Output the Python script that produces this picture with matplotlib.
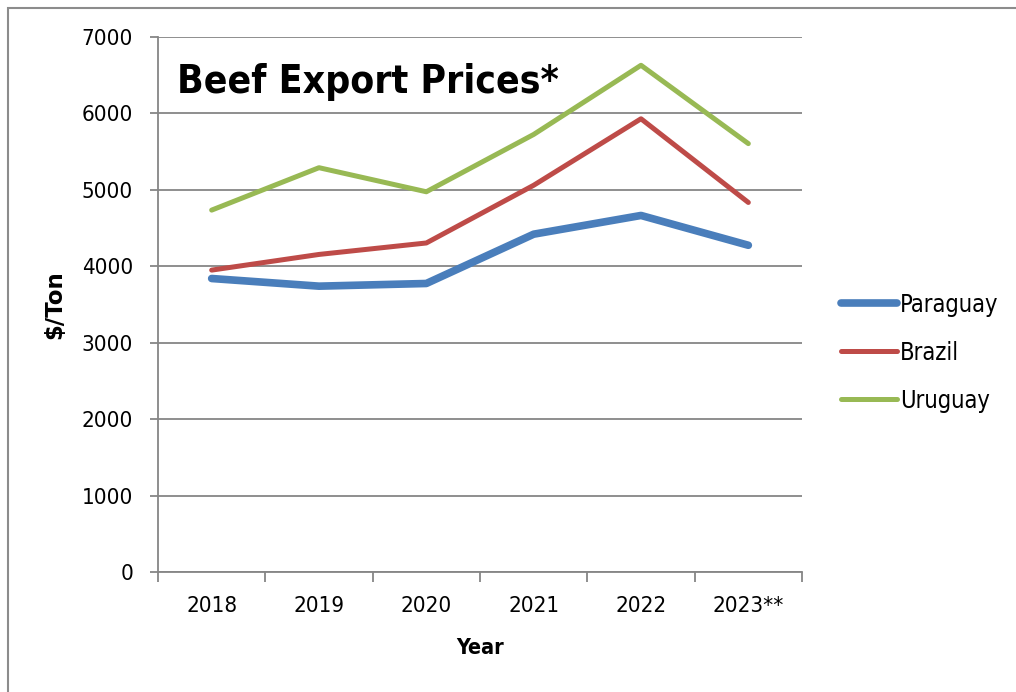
import numpy as np
import matplotlib
matplotlib.use("Agg")
import matplotlib.pyplot as plt
from matplotlib.patches import Rectangle

years = ["2018", "2019", "2020", "2021", "2022", "2023**"]
paraguay = [3840, 3740, 3775, 4420, 4665, 4275]
brazil = [3950, 4155, 4305, 5060, 5930, 4835]
uruguay = [4735, 5290, 4975, 5725, 6630, 5605]

series_names = ["Paraguay", "Brazil", "Uruguay"]
series_colors = ["#4a7ebb", "#be4b48", "#98b954"]
series_widths = [5.5, 3.6, 3.6]

plt.rcParams["font.family"] = ["DejaVu Sans"]
plt.rcParams["font.stretch"] = "condensed"

fig = plt.figure(figsize=(10.16, 6.92), dpi=100)
ax = fig.add_axes([158 / 1016, 1 - 572 / 692, 644 / 1016, 535 / 692])

# outer chart border (left and top visible)
fig.patches.append(Rectangle((8 / 1016, -0.1), 1.2, 1 - 8 / 692 + 0.1,
                             transform=fig.transFigure, fill=False,
                             edgecolor="#8c8c8c", linewidth=1.5))

x = np.arange(len(years))
for vals, name, col, lw in zip([paraguay, brazil, uruguay], series_names,
                               series_colors, series_widths):
    ax.plot(x, vals, color=col, linewidth=lw, label=name,
            solid_capstyle="round", solid_joinstyle="round")

ax.set_xlim(-0.5, len(years) - 0.5)
ax.set_ylim(0, 7000)
ax.set_yticks(np.arange(0, 7001, 1000))
ax.yaxis.grid(True, color="#868686", linewidth=1.3)
ax.set_axisbelow(True)

ax.set_xticks(np.arange(-0.5, len(years), 1.0))
ax.set_xticklabels([])
ax.set_xticks(x, minor=True)
ax.set_xticklabels(years, minor=True)
ax.tick_params(axis="x", which="major", length=7, width=1.3, color="#868686",
               direction="out")
ax.tick_params(axis="x", which="minor", length=0, pad=17, labelsize=16)
ax.tick_params(axis="y", length=6, width=1.3, color="#868686", pad=12,
               labelsize=16)

for s in ["top", "right"]:
    ax.spines[s].set_visible(False)
for s in ["left", "bottom"]:
    ax.spines[s].set_color("#868686")
    ax.spines[s].set_linewidth(1.3)

ax.set_xlabel("Year", fontsize=15.5, fontweight="bold", labelpad=16)
ax.set_ylabel("$/Ton", fontsize=16.5, fontweight="bold", fontstretch="normal")
ax.yaxis.set_label_coords(-0.143, 0.5)

ax.text(0.03, 0.915, "Beef Export Prices*", transform=ax.transAxes,
        fontsize=28, fontweight="bold", va="center", ha="left")

ax.legend(loc="center left", bbox_to_anchor=(1.027, 0.41), frameon=False,
          fontsize=17, handlelength=2.4, handletextpad=0.12, labelspacing=1.02)

fig.savefig("out.png", dpi=100)
